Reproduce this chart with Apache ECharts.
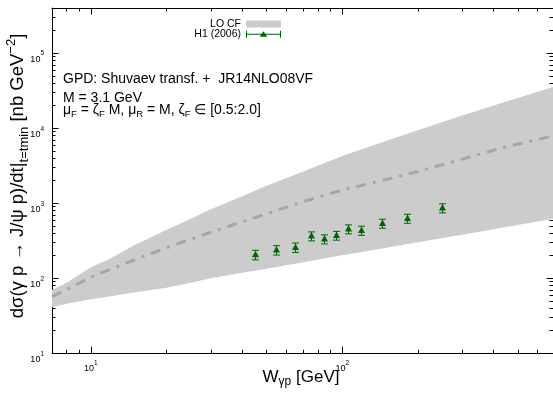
<!DOCTYPE html>
<html><head><meta charset="utf-8">
<script src="https://cdn.jsdelivr.net/npm/echarts@6/dist/echarts.min.js"></script>
<style>html,body{margin:0;padding:0;background:#fff}#c{width:553px;height:394px}</style>
</head><body><div id="c"></div>
<script>
const FONT = '"Liberation Sans", Arial, sans-serif';
const GREEN = '#006400';
const BAND = '#cccccc';
const LINEGRAY = '#a6a6a6';

// LO CF band (W in GeV, dσ/dt in nb GeV^-2)
const bandW      = [7, 8, 10, 12, 15, 20, 25, 30, 40, 50, 70, 100, 150, 200, 300, 450, 690];
const bandUpper  = [70, 87, 140, 185, 280, 443, 621, 829, 1240, 1710, 2650, 4250, 6800, 9400, 14800, 22700, 35300];
const bandLower  = [41, 45.7, 52.5, 57.5, 65, 75, 87, 100, 118, 134, 164, 203, 256, 302, 380, 482, 620];
const centralCF  = [57, 71, 103, 133, 178, 256, 331, 410, 567, 724, 1047, 1500, 2075, 2650, 3870, 5670, 7900];

// H1 (2006) data
const h1W   = [44.8, 54.7, 64.9, 74.9, 84.8, 94.6, 105, 118.8, 143.6, 180.7, 250.6];
const h1Val = [206, 238, 258, 365, 333, 372, 453, 434, 538, 627, 863];
const h1Err = [30, 34, 37, 50, 46, 50, 62, 60, 74, 86, 120];

// axis ticks
const xMajor = [10, 100];
const yMajor = [10, 100, 1000, 10000, 100000];
const xRange = [7, 690];
const yRange = [10, 400000];
function minors(lo, hi) {
  const out = [];
  for (let d = Math.floor(Math.log10(lo)); d <= Math.ceil(Math.log10(hi)); d++) {
    for (let m = 2; m <= 9; m++) {
      const v = m * Math.pow(10, d);
      if (v > lo && v < hi) out.push(v);
    }
  }
  return out;
}
const xMinor = minors(xRange[0], xRange[1]);
const yMinor = minors(yRange[0], yRange[1]);

const powRich = {
  b: {fontSize: 9, fontFamily: FONT, color: '#000', lineHeight: 14, verticalAlign: 'bottom'},
  s: {fontSize: 6.5, fontFamily: FONT, color: '#000', lineHeight: 7, verticalAlign: 'top'}
};
const powFmt = v => '{b|10}{s|' + Math.round(Math.log10(v)) + '}';

function axis(kind, pos, major, withLine, withLabel) {
  const r = kind === 'x' ? xRange : yRange;
  const a = {
    type: 'log', logBase: 10, min: r[0], max: r[1], position: pos,
    splitLine: {show: false}, minorTick: {show: false}, minorSplitLine: {show: false},
    axisLine: {show: withLine, onZero: false, lineStyle: {color: '#000', width: 1}},
    axisTick: {show: true, inside: true, length: major ? 6.5 : 3.5,
      customValues: major ? (kind === 'x' ? xMajor : yMajor) : (kind === 'x' ? xMinor : yMinor),
      lineStyle: {color: '#000', width: 1}},
    axisLabel: {show: false},
    axisPointer: {show: false}
  };
  if (withLabel) {
    a.axisLabel = {
      show: true, customValues: kind === 'x' ? xMajor : yMajor,
      formatter: powFmt, rich: powRich,
      margin: kind === 'x' ? 6 : 8,
      padding: kind === 'x' ? 0 : [8, 0, 0, 0]
    };
  }
  return a;
}

function sub(t){return '{s|' + t + '}';}
function base(t){return '{a|' + t + '}';}

const option = {
  animation: false,
  grid: {left: 52, top: 8, right: -2.6, bottom: 40.7},
  xAxis: [
    axis('x', 'bottom', true, true, true),
    axis('x', 'bottom', false, false, false),
    axis('x', 'top', true, true, false),
    axis('x', 'top', false, false, false)
  ],
  yAxis: [
    axis('y', 'left', true, true, true),
    axis('y', 'left', false, false, false),
    axis('y', 'right', true, true, false),
    axis('y', 'right', false, false, false)
  ],
  legend: [
    {data: [{name: 'LO CF', icon: 'rect', itemStyle: {color: BAND}}],
     orient: 'vertical', align: 'right', right: 272, top: 18, padding: 0,
     itemWidth: 35, itemHeight: 7, selectedMode: false,
     textStyle: {fontSize: 10.5, fontFamily: FONT, color: '#000', lineHeight: 12}},
    {data: [{name: 'H1 (2006)',
      icon: 'path://M0,0H1V7H0Z M34,0H35V7H34Z M0,3H35V4H0Z M17.5,0.5L21.2,6L13.8,6Z',
      itemStyle: {color: GREEN}}],
     orient: 'vertical', align: 'right', right: 272, top: 28.3, padding: 0,
     itemWidth: 35, itemHeight: 7, selectedMode: false,
     textStyle: {fontSize: 10.5, fontFamily: FONT, color: '#000', lineHeight: 12}}
  ],
  series: [
    {type: 'custom', name: 'LO CF', xAxisIndex: 0, yAxisIndex: 0,
     data: bandW.map((w, i) => [w, bandLower[i], bandUpper[i]]),
     encode: {x: 0, y: [1, 2]}, itemStyle: {color: BAND}, silent: true, z: 1,
     renderItem: (params, api) => {
       if (params.dataIndex !== 0) return null;
       const up = bandW.map((w, i) => api.coord([w, bandUpper[i]]));
       const lo = bandW.map((w, i) => api.coord([w, bandLower[i]])).reverse();
       return {type: 'polygon', shape: {points: up.concat(lo)}, style: {fill: BAND}};
     }},
    {type: 'line', name: 'central', xAxisIndex: 0, yAxisIndex: 0,
     data: bandW.map((w, i) => [w, centralCF[i]]), symbol: 'none', silent: true,
     lineStyle: {color: LINEGRAY, width: 3, type: [10, 7, 3, 7], cap: 'butt'}, z: 3},
    {type: 'custom', name: 'H1 (2006)', xAxisIndex: 0, yAxisIndex: 0,
     data: h1W.map((w, i) => [w, h1Val[i], h1Err[i]]),
     encode: {x: 0, y: 1}, itemStyle: {color: GREEN}, z: 5, silent: true,
     renderItem: (params, api) => {
       const w = api.value(0), v = api.value(1), e = api.value(2);
       const p = api.coord([w, v]);
       const t = api.coord([w, v + e]);
       const b = api.coord([w, v - e]);
       const x = Math.round(p[0]) + 0.5;
       const st = {stroke: GREEN, lineWidth: 1};
       return {type: 'group', children: [
         {type: 'line', shape: {x1: x, y1: t[1], x2: x, y2: b[1]}, style: st},
         {type: 'line', shape: {x1: x - 3.5, y1: t[1], x2: x + 3.5, y2: t[1]}, style: st},
         {type: 'line', shape: {x1: x - 3.5, y1: b[1], x2: x + 3.5, y2: b[1]}, style: st},
         {type: 'polygon', shape: {points: [[x, p[1] - 4], [x + 3.5, p[1] + 2.5], [x - 3.5, p[1] + 2.5]]},
          style: {fill: GREEN}}
       ]};
     }}
  ],
  graphic: [
    {type: 'text', x: 63, y: 79, silent: true,
     style: {text: 'GPD: Shuvaev transf. +  JR14NLO08VF', fontSize: 14, fontFamily: FONT, fill: '#000', verticalAlign: 'middle'}},
    {type: 'text', x: 63, y: 98.5, silent: true,
     style: {text: 'M = 3.1 GeV', fontSize: 14, fontFamily: FONT, fill: '#000', verticalAlign: 'middle'}},
    {type: 'text', x: 63, y: 110.5, silent: true,
     style: {text: base('μ') + sub('F') + base(' = ζ') + sub('F') + base(' M, μ') + sub('R') + base(' = M, ζ') + sub('F') + base(' ∈ [0.5:2.0]'),
       fontSize: 14, fontFamily: FONT, fill: '#000', verticalAlign: 'middle',
       rich: {a: {fontSize: 14, fontFamily: FONT, fill: '#000', lineHeight: 18, verticalAlign: 'middle'},
              s: {fontSize: 9.5, fontFamily: FONT, fill: '#000', lineHeight: 9.5, verticalAlign: 'bottom'}}}},
    {type: 'text', x: 301, y: 377, silent: true,
     style: {text: base('W') + sub('γp') + base(' [GeV]'), fontSize: 17, fontFamily: FONT, fill: '#000',
       align: 'center', verticalAlign: 'middle',
       rich: {a: {fontSize: 17, fontFamily: FONT, fill: '#000', lineHeight: 22, verticalAlign: 'middle'},
              s: {fontSize: 12, fontFamily: FONT, fill: '#000', lineHeight: 12, verticalAlign: 'bottom'}}}},
    {type: 'text', x: 17.5, y: 176, rotation: Math.PI / 2, silent: true,
     style: {text: base('dσ(γ p → J/ψ p)/dt|') + sub('t=tmin') + base(' [nb GeV') + '{p|−2}' + base(']'),
       fontSize: 18.5, fontFamily: FONT, fill: '#000', align: 'center', verticalAlign: 'middle',
       rich: {a: {fontSize: 18.5, fontFamily: FONT, fill: '#000', lineHeight: 26, verticalAlign: 'middle'},
              s: {fontSize: 13, fontFamily: FONT, fill: '#000', lineHeight: 13, verticalAlign: 'bottom'},
              p: {fontSize: 13, fontFamily: FONT, fill: '#000', lineHeight: 13, verticalAlign: 'top'}}}}
  ]
};
const chart = echarts.init(document.getElementById('c'), null, {renderer: 'canvas'});
chart.setOption(option);
</script>
</body></html>
